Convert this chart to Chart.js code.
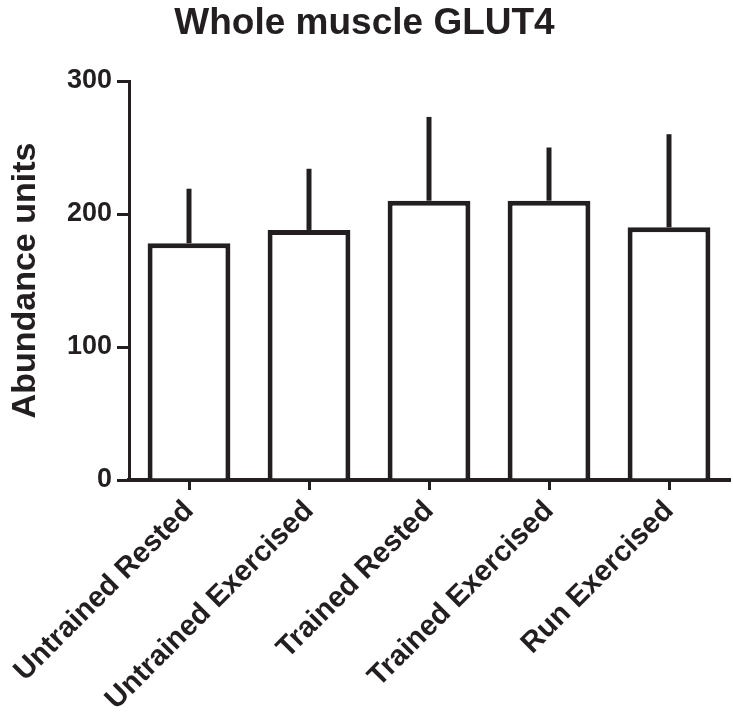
<!DOCTYPE html>
<html>
<head>
<meta charset="utf-8">
<script src="https://cdn.jsdelivr.net/npm/chart.js@4/dist/chart.umd.min.js"></script>
<style>
  html, body { margin: 0; padding: 0; background: #ffffff; }
  #wrap { width: 733px; height: 728px; }
</style>
</head>
<body>
<div id="wrap"><canvas id="c" width="733" height="728"></canvas></div>
<script>
const categories = ["Untrained Rested", "Untrained Exercised", "Trained Rested", "Trained Exercised", "Run Exercised"];
const means = [178, 188, 210, 210, 190];
const errUpper = [41, 46, 63, 40, 70];
const yTicks = [0, 100, 200, 300];

const INK = '#231f20';
const FONT = "'Liberation Sans', Arial, Helvetica, sans-serif";

const errorBarPlugin = {
  id: 'errorBars',
  afterDatasetsDraw(chart) {
    const ctx = chart.ctx;
    const meta = chart.getDatasetMeta(0);
    const y = chart.scales.y;
    ctx.save();
    ctx.strokeStyle = INK;
    ctx.lineWidth = 5;
    ctx.lineCap = 'butt';
    meta.data.forEach((bar, i) => {
      const x = bar.x;
      const y0 = y.getPixelForValue(means[i]);
      const y1 = y.getPixelForValue(means[i] + errUpper[i]);
      ctx.beginPath();
      ctx.moveTo(x, y0);
      ctx.lineTo(x, y1);
      ctx.stroke();
    });
    ctx.restore();
  }
};

new Chart(document.getElementById('c'), {
  type: 'bar',
  data: {
    labels: categories,
    datasets: [{
      data: means,
      backgroundColor: '#ffffff',
      borderColor: INK,
      borderWidth: 5,
      borderSkipped: 'bottom',
      categoryPercentage: 1.0,
      barPercentage: 0.69
    }]
  },
  options: {
    responsive: false,
    animation: false,
    layout: { padding: { left: 0, right: 4, top: 0, bottom: 0 } },
    plugins: {
      legend: { display: false },
      tooltip: { enabled: false },
      title: {
        display: true,
        text: 'Whole muscle GLUT4',
        color: INK,
        font: { family: FONT, size: 37, weight: 'bold', lineHeight: 1.2 },
        padding: { top: 2, bottom: 34.6 }
      }
    },
    scales: {
      x: {
        offset: true,
        grid: { display: true, drawOnChartArea: false, drawTicks: true, tickLength: 10, offset: false, color: INK, lineWidth: 3 },
        border: { display: true, color: INK, width: 4 },
        ticks: {
          color: INK,
          font: { family: FONT, size: 29, weight: 'bold' },
          minRotation: 45, maxRotation: 45,
          padding: 4,
          autoSkip: false
        },
        afterFit(scale) { scale.height = 248; }
      },
      y: {
        min: 0, max: 300,
        afterBuildTicks(scale) { scale.ticks = yTicks.map(v => ({ value: v })); },
        grid: { display: true, drawOnChartArea: false, drawTicks: true, tickLength: 12, color: INK, lineWidth: 3 },
        border: { display: true, color: INK, width: 3 },
        ticks: {
          color: INK,
          font: { family: FONT, size: 27, weight: 'bold' },
          padding: 5
        },
        title: {
          display: true,
          text: 'Abundance units',
          color: INK,
          font: { family: FONT, size: 34, weight: 'bold', lineHeight: 1.2 },
          padding: { top: 5, bottom: 0 }
        },
        afterFit(scale) { scale.width = 129; }
      }
    }
  },
  plugins: [errorBarPlugin]
});
</script>
</body>
</html>
